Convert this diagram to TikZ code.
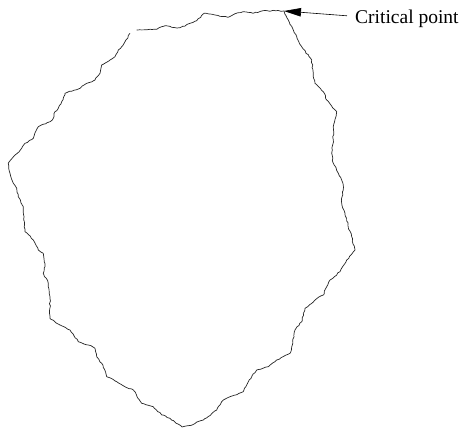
\documentclass[tikz,border=0pt]{standalone}
\usepackage{fontspec}
\setmainfont{Liberation Serif}
\usepackage{tikz}
\usetikzlibrary{arrows.meta, decorations.pathmorphing}
\tikzset{
	crackline/.style={
			draw=black!85,
			line width=0.7pt,
			line join=round,
			decorate,
			decoration={random steps, segment length=2.5pt, amplitude=0.6pt}
		},
	pointer/.style={
			draw=black,
			line width=0.6pt,
			-{Triangle[length=17pt, width=8.5pt]},
			shorten >=0pt
		},
	labelnode/.style={
			inner sep=0pt,
			font=\fontsize{19.5}{22}\selectfont
		}
}

\begin{document}
\begin{tikzpicture}[x=1pt, y=-1pt]
\pgfmathsetseed{11}
\useasboundingbox (0,0) rectangle (469,428);
\coordinate (crit) at (284,11);
\node[labelnode, anchor=base west] (label) at (355,23.5) {Critical point};

\draw[crackline] (136.7,30) -- (150,29.3) -- (156.7,29.3) -- (165,25.7) -- (171.7,27.3)
  -- (180,27.7) -- (190,23.3) -- (196.7,20.7) -- (204,13.3) -- (215,15) -- (228,17.3)
  -- (238,12.7) -- (243,11.7) -- (253,13.3) -- (263,10.7) -- (crit)
  -- (288.3,20) -- (293.3,30) -- (296.7,36.7) -- (301.7,46.7) -- (311.7,60) -- (313.3,73.3)
  -- (315,83.3) -- (323.3,91.7) -- (326.7,100) -- (336.7,111.7) -- (333.3,126.7) -- (333.3,140)
  -- (331.7,153.3) -- (333.3,163.3) -- (338.3,173.3) -- (343.3,185) -- (341.7,203.3)
  -- (345,213.3) -- (348.3,226.7) -- (351.7,236.7) -- (355,250)
  -- (346.7,260) -- (340,271.7) -- (330,280) -- (326.7,286.7) -- (323.3,295) -- (315,300)
  -- (305,308.3) -- (301.7,321.7) -- (295,330) -- (291.7,346.7) -- (290,353.3) -- (276.7,360)
  -- (268.3,366.7) -- (256.7,370) -- (248.3,381.7) -- (243.3,391.7) -- (230,396.7)
  -- (223.3,400) -- (216.7,410) -- (203.3,420) -- (190,425.5) -- (182,427)
  -- (170,418.3) -- (161.7,415) -- (153.3,406.7) -- (141.7,403.3) -- (133.3,390)
  -- (125,386.7) -- (116.7,381.7) -- (106.7,376.7) -- (101.7,363.3) -- (96.7,356.7)
  -- (95,348.3) -- (88.3,345) -- (78.3,341.7) -- (70,330) -- (60,325) -- (50,318.3)
  -- (50,296.7) -- (48.3,283.3) -- (43.3,273.3) -- (45,266.7) -- (43.3,253.3) -- (38.3,250)
  -- (33.3,240) -- (25,231.7) -- (24,216.7) -- (23.3,206.7) -- (18.3,196.7) -- (16.7,188.3)
  -- (13.3,183.3) -- (10,173.3) -- (8.3,163.3)
  -- (15,155) -- (21.7,148.3) -- (25,143.3) -- (33.3,138.3) -- (38.3,126.7) -- (50,121.7)
  -- (53.3,118.3) -- (55,111.7) -- (58.3,108.3) -- (61.7,101.7) -- (65,93.3) -- (80,88.3)
  -- (86.7,83.3) -- (95,80) -- (100,73.3) -- (101.7,65) -- (110,60) -- (115,56.7)
  -- (118.3,50) -- (121.7,46.7) -- (125,41.7) -- (130,33.3);

\draw[pointer] ([xshift=-8pt, yshift=3pt]label.west) -- (crit);
\end{tikzpicture}
\end{document}
